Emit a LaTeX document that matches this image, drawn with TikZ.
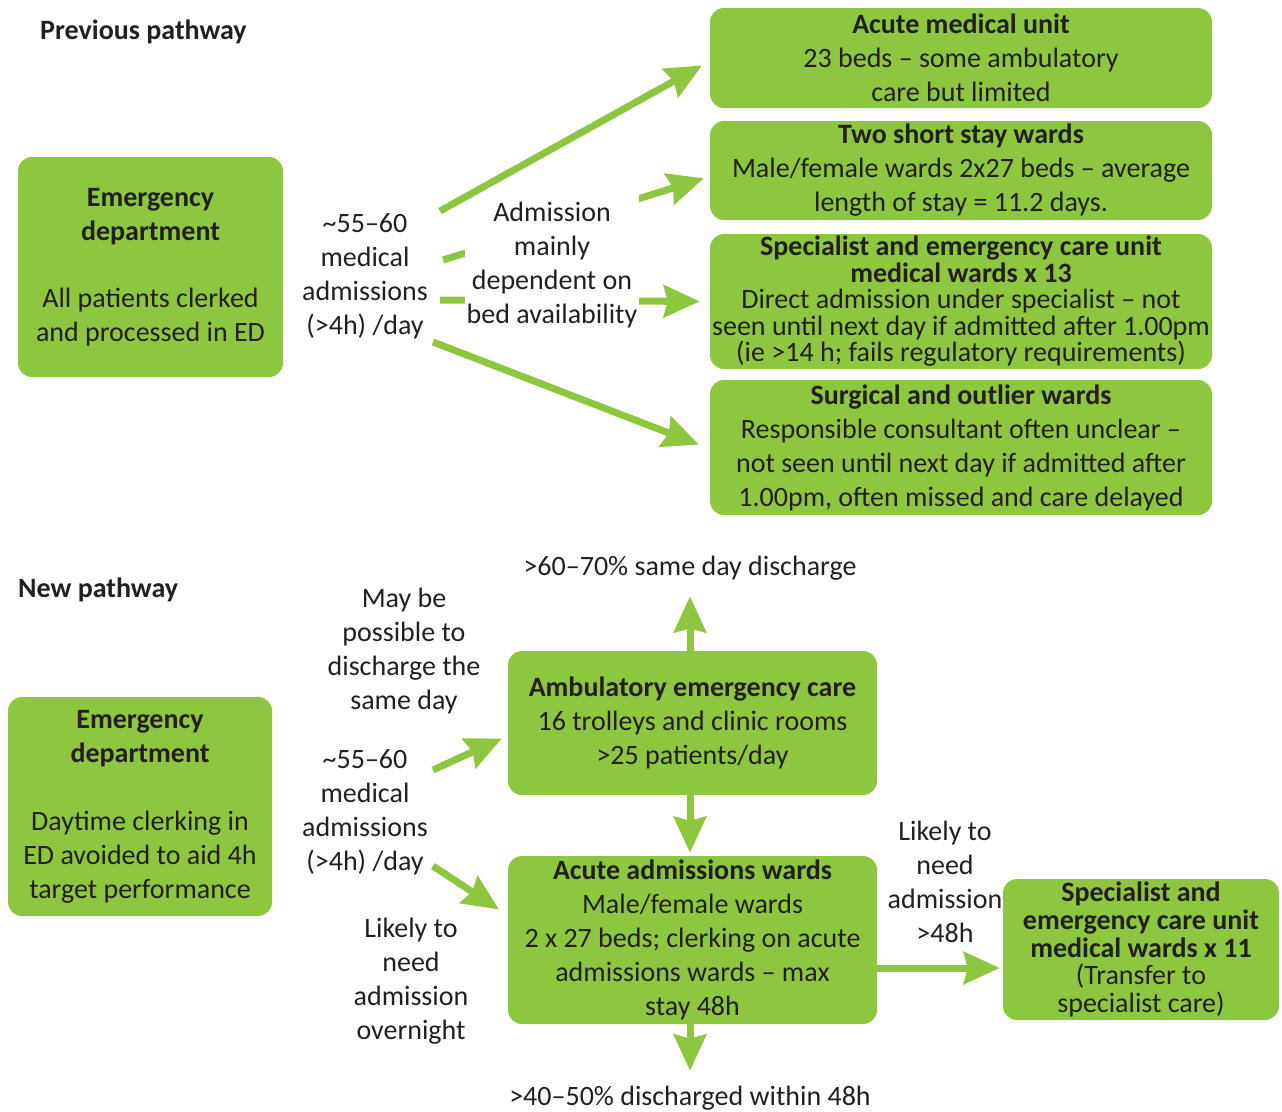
\documentclass[tikz,border=0pt]{standalone}
\usepackage{fontspec}
\setmainfont{Carlito}
\usetikzlibrary{arrows.meta}
\definecolor{grn}{RGB}{141,198,63}
\definecolor{txt}{RGB}{35,31,32}
\begin{document}
\begin{tikzpicture}[x=1pt,y=-1pt,
  box/.style={fill=grn, rounded corners=14pt, text=txt, align=center, inner sep=0pt, font=\fontsize{28}{34}\selectfont},
  lbl/.style={text=txt, align=center, inner sep=0pt, font=\fontsize{28}{34}\selectfont},
  ttl/.style={text=txt, anchor=west, inner sep=0pt, font=\fontsize{28}{34}\selectfont\bfseries},
  arr/.style={draw=grn, line width=7pt, -{Stealth[length=36pt,width=32pt,inset=4pt]}}
]
\useasboundingbox (0,0) rectangle (1282,1111);

% ---------- Previous pathway ----------
\node[ttl] (prev) at (40,32) {Previous pathway};

\node[box, minimum width=265pt, minimum height=220pt] (ed1) at (150.5,267)
  {\textbf{Emergency}\\\textbf{department}\\[33pt]All patients clerked\\and processed in ED};

\node[box, minimum width=502pt, minimum height=100pt] (amu) at (961,58)
  {\textbf{Acute medical unit}\\23 beds -- some ambulatory\\care but limited};
\node[box, minimum width=502pt, minimum height=99pt] (short) at (961,170.5)
  {\textbf{Two short stay wards}\\Male/female wards 2x27 beds -- average\\length of stay = 11.2 days.};
\node[box, minimum width=502pt, minimum height=135pt, font=\fontsize{28}{26.5}\selectfont] (spec) at (961,301.5)
  {\textbf{Specialist and emergency care unit}\\\textbf{medical wards x 13}\\Direct admission under specialist -- not\\seen until next day if admitted after 1.00pm\\(ie >14 h; fails regulatory requirements)};
\node[box, minimum width=502pt, minimum height=135pt] (surg) at (961,447.5)
  {\textbf{Surgical and outlier wards}\\Responsible consultant often unclear --\\not seen until next day if admitted after\\1.00pm, often missed and care delayed};

\node[lbl] (adm1) at (365,276) {\textasciitilde55--60\\medical\\admissions\\(>4h) /day};

\coordinate (s1) at (440,211);
\coordinate (s2) at (443,260);
\coordinate (s3) at (440,300);
\coordinate (s4) at (433,342);

\draw[arr, shorten >=1pt] (s2) -- ([shift={(-5,7.5)}]short.west);
\draw[arr, shorten >=10pt] (s3) -- (spec.west);

\node[lbl, fill=white, inner xsep=2pt, inner ysep=7pt] (bed) at (552,265)
  {Admission\\mainly\\dependent on\\bed availability};

\draw[arr, shorten >=1pt] (s1) -- ([shift={(-7,7)}]amu.west);
\draw[arr, shorten >=1pt] (s4) -- ([shift={(-10,-2.5)}]surg.west);

% ---------- New pathway ----------
\node[ttl] (newp) at (18,590) {New pathway};

\node[box, minimum width=264pt, minimum height=219pt] (ed2) at (140,806.5)
  {\textbf{Emergency}\\\textbf{department}\\[34pt]Daytime clerking in\\ED avoided to aid 4h\\target performance};

\node[box, minimum width=369pt, minimum height=144pt] (amb) at (692.5,723)
  {\textbf{Ambulatory emergency care}\\16 trolleys and clinic rooms\\>25 patients/day};
\node[box, minimum width=369pt, minimum height=168pt] (acu) at (692.5,940)
  {\textbf{Acute admissions wards}\\Male/female wards\\2 x 27 beds; clerking on acute\\admissions wards -- max\\stay 48h};
\node[box, minimum width=276pt, minimum height=141pt, font=\fontsize{28}{27.75}\selectfont] (sp2) at (1141,949.5)
  {\textbf{Specialist and}\\\textbf{emergency care unit}\\\textbf{medical wards x 11}\\(Transfer to\\specialist care)};

\node[lbl] (sd) at (690,568) {>60--70\% same day discharge};
\node[lbl] (may) at (404,651) {May be\\possible to\\discharge the\\same day};
\node[lbl] (adm2) at (365,812) {\textasciitilde55--60\\medical\\admissions\\(>4h) /day};
\node[lbl] (ovn) at (411,981.5) {Likely to\\need\\admission\\overnight};
\node[lbl] (l48) at (945,882) {Likely to\\need\\admission\\>48h};
\node[lbl] (dis) at (690,1098) {>40--50\% discharged within 48h};

\coordinate (n1) at (433,770);
\coordinate (n2) at (433,866);

\draw[arr, shorten >=16pt] ([xshift=-2.5pt]amb.north) -- ([xshift=-2.5pt]amb.north |- sd.south);
\draw[arr, shorten >=3pt] ([xshift=-2.5pt]amb.south) -- ([xshift=-2.5pt]acu.north);
\draw[arr, shorten >=15pt] ([xshift=-2.5pt]acu.south) -- ([xshift=-2.5pt]acu.south |- dis.north);
\draw[arr, shorten >=3pt] ([yshift=-28pt]acu.east) -- ([yshift=-18.5pt]sp2.west);
\draw[arr, shorten >=1pt] (n1) -- ([shift={(-5,15)}]amb.west);
\draw[arr, shorten >=1pt] (n2) -- ([shift={(-8,-30)}]acu.west);
\end{tikzpicture}
\end{document}
